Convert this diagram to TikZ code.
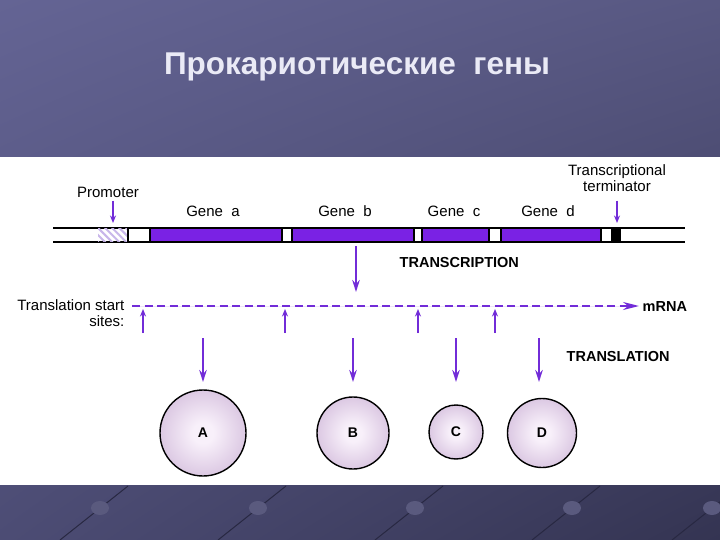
\documentclass[tikz,border=0pt]{standalone}
\usepackage{fontspec}
\setmainfont{Liberation Sans}
\usetikzlibrary{arrows.meta,patterns.meta,shadings}

\definecolor{slidetl}{RGB}{100,100,148}
\definecolor{slidetr}{RGB}{88,88,130}
\definecolor{slidebl}{RGB}{76,76,116}
\definecolor{slidebr}{RGB}{52,52,82}
\definecolor{titlewhite}{RGB}{234,234,246}
\definecolor{genefill}{RGB}{122,34,228}
\definecolor{arrowviolet}{RGB}{114,44,216}
\definecolor{hatchlilac}{RGB}{200,182,234}
\definecolor{cellin}{RGB}{248,240,250}
\definecolor{cellout}{RGB}{182,148,196}
\definecolor{bandline}{RGB}{40,40,66}
\definecolor{bandblob}{RGB}{90,90,126}

\pgfdeclareradialshading{cellball}{\pgfpoint{0bp}{0bp}}{%
  color(0bp)=(cellin); color(6bp)=(cellin); color(50bp)=(cellout); color(72bp)=(cellout)}

\begin{document}
\begin{tikzpicture}[x=1pt,y=-1pt,>={Stealth[length=12pt,width=7.5pt]},line width=1.4pt,
  lbl/.style={font=\fontsize{15}{15.5}\selectfont,inner sep=0pt},
  caps/.style={font=\bfseries\fontsize{14.5}{16}\selectfont,inner sep=0pt},
  arr/.style={->,draw=arrowviolet,fill=arrowviolet,line width=2pt},
  smallarr/.style={arr,>={Stealth[length=7.5pt,width=6pt]}},
  genebar/.style={fill=genefill,draw=black,line width=1.2pt},
  protein/.style={circle,draw=black,line width=1.4pt,shading=cellball,
    font=\bfseries\fontsize{14}{15}\selectfont}]
  \useasboundingbox (0,0) rectangle (720,540);

  % фон слайда
  \shade[upper left=slidetl,upper right=slidetr,lower left=slidebl,lower right=slidebr]
    (0,0) rectangle (720,540);
  \begin{scope}
    \clip (0,485) rectangle (720,540);
    \foreach \x in {100,258,415,572,712} {
      \draw[bandline,line width=1pt] (\x-40,540) -- (\x+28,486);
      \fill[bandblob] (\x,508) ellipse (9 and 7);
    }
  \end{scope}
  \fill[white] (0,157) rectangle (720,485);

  % заголовок
  \node[font=\bfseries\fontsize{31.5}{34}\selectfont,text=titlewhite,anchor=base] (title)
    at (357,75) {Прокариотические~~гены};

  % ДНК
  \draw (53,228) -- (685,228);
  \draw (53,242) -- (685,242);
  \fill[pattern={Lines[angle=-45,distance=5pt,line width=2pt]},pattern color=hatchlilac]
    (98,229) rectangle (128,241);
  \draw[line width=1.2pt] (128,228) -- (128,242);
  \filldraw[genebar] (150,228) rectangle (282,242);
  \filldraw[genebar] (292,228) rectangle (414,242);
  \filldraw[genebar] (422,228) rectangle (489,242);
  \filldraw[genebar] (501,228) rectangle (601,242);
  \fill[black] (611,228) rectangle (621,242);

  % подписи генов
  \node[lbl,anchor=base] (promoter) at (108,197) {Promoter};
  \node[lbl,anchor=base] (genea) at (213,217) {Gene~~a};
  \node[lbl,anchor=base] (geneb) at (345,217) {Gene~~b};
  \node[lbl,anchor=base] (genec) at (454,217) {Gene~~c};
  \node[lbl,anchor=base] (gened) at (548,217) {Gene~~d};
  \node[lbl,anchor=south,align=center] (term) at (617,192) {Transcriptional\\terminator};

  \coordinate (prom0) at (113,201);
  \coordinate (prom1) at (113,223);
  \coordinate (term0) at (617,201);
  \coordinate (term1) at (617,223);
  \draw[smallarr] (prom0) -- (prom1);
  \draw[smallarr] (term0) -- (term1);

  % транскрипция
  \coordinate (tx0) at (356,246);
  \coordinate (tx1) at (356,292);
  \draw[arr] (tx0) -- (tx1);
  \node[caps,anchor=base west] (transcr) at (399,267) {TRANSCRIPTION};

  % мРНК
  \node[lbl,anchor=south east,align=right] (sites) at (125,327) {Translation start\\sites:};
  \node[caps,anchor=base west] (mrna) at (642,311) {mRNA};
  \coordinate (m0) at (132,306);
  \draw[arr,dash pattern=on 8pt off 4.5pt,>={Stealth[length=16pt,width=8pt]},shorten >=3pt]
    (m0) -- (m0 -| mrna.west);
  \coordinate (sitebot) at (0,333);
  \coordinate (sitetip) at (0,309);
  \foreach \x [count=\i] in {143,285,418,495} {
    \coordinate (site\i) at (\x,333);
    \draw[smallarr] (site\i) -- (site\i |- sitetip);
  }

  % трансляция
  \node[caps,anchor=base west] (transl) at (566,361) {TRANSLATION};
  \node[protein,minimum size=86pt] (A) at (203,433) {A};
  \node[protein,minimum size=72pt] (B) at (353,433) {B};
  \node[protein,minimum size=54pt] (C) at (456,432) {C};
  \node[protein,minimum size=69pt] (D) at (542,433) {D};
  \coordinate (trtop) at (0,338);
  \coordinate (trtip) at (0,382);
  \draw[arr] (A |- trtop) -- (A |- trtip);
  \draw[arr] (B |- trtop) -- (B |- trtip);
  \draw[arr] (C |- trtop) -- (C |- trtip);
  \draw[arr] ([xshift=-3pt]D |- trtop) -- ([xshift=-3pt]D |- trtip);
\end{tikzpicture}
\end{document}
